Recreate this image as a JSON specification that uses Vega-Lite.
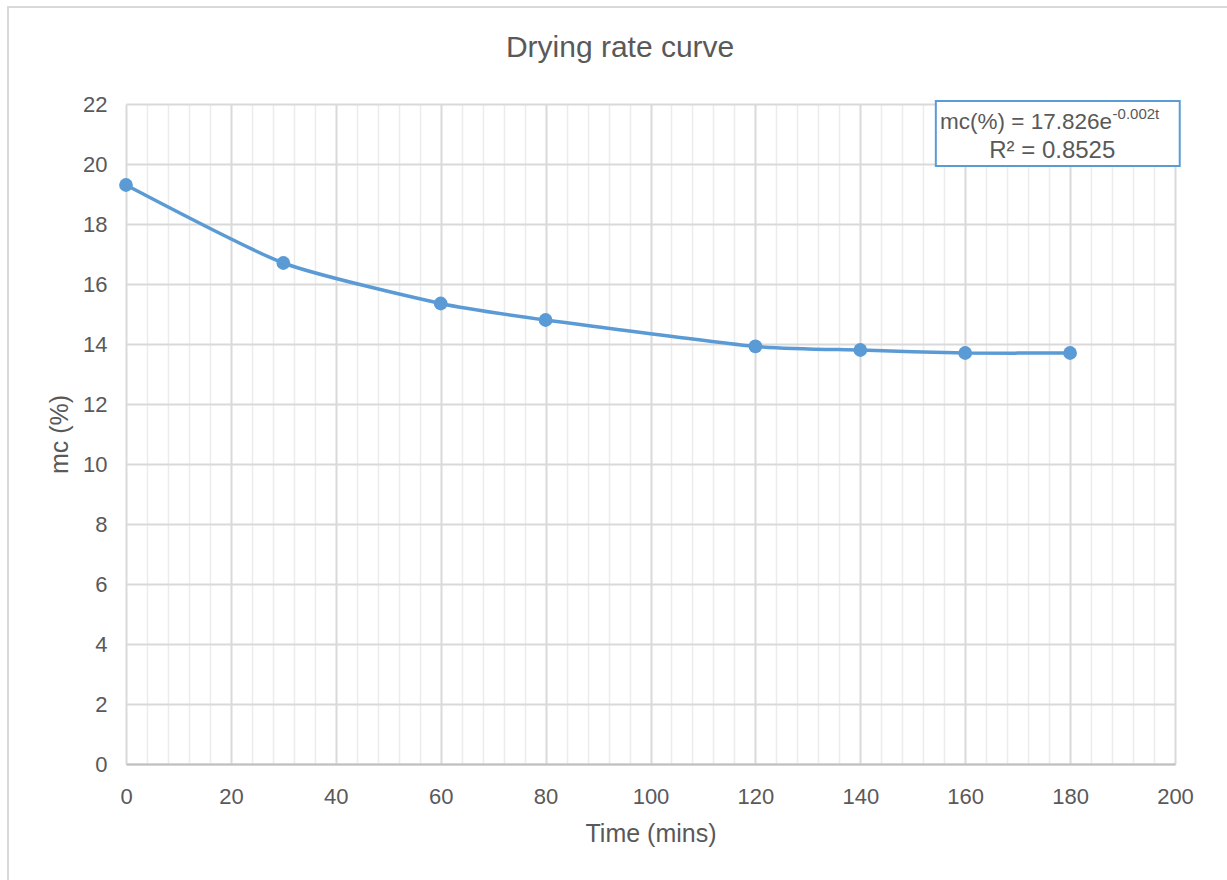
{
  "$schema": "https://vega.github.io/schema/vega-lite/v6.json",
  "autosize": "none",
  "width": 1049,
  "height": 660,
  "padding": {"left": 126, "top": 104, "right": 52, "bottom": 116},
  "background": "white",
  "config": {
    "font": "Liberation Sans",
    "view": {"stroke": null}
  },
  "datasets": {
    "series": [
      {"time": 0, "mc": 19.3},
      {"time": 30, "mc": 16.7},
      {"time": 60, "mc": 15.35},
      {"time": 80, "mc": 14.8},
      {"time": 120, "mc": 13.92},
      {"time": 140, "mc": 13.8},
      {"time": 160, "mc": 13.7},
      {"time": 180, "mc": 13.7}
    ],
    "frame": [{"x1": -22.5, "x2": 240, "y1": 25.23, "y2": -10}],
    "heading": [{"tx": 94.2, "ty": 23.87, "txt": "Drying rate curve"}],
    "box": [{"x1": 154.4, "x2": 200.9, "y1": 22.1, "y2": 19.93}],
    "main": [{"tx": 188.0, "ty": 21.40, "txt": "mc(%) = 17.826e"}],
    "r2": [{"tx": 176.6, "ty": 20.45, "txt": "R² = 0.8525"}],
    "sup": [{"tx": 188.1, "ty": 21.66, "txt": "-0.002t"}]
  },
  "layer": [
    {
      "data": {"name": "frame"},
      "mark": {"type": "rect", "fill": null, "fillOpacity": 0, "stroke": "#d9d9d9", "strokeWidth": 2, "clip": false},
      "encoding": {
        "x": {"field": "x1", "type": "quantitative"},
        "x2": {"field": "x2"},
        "y": {"field": "y1", "type": "quantitative"},
        "y2": {"field": "y2"}
      }
    },
    {
      "data": {"name": "series"},
      "mark": {"type": "line", "interpolate": "cardinal", "tension": 0.4, "color": "#5b9bd5", "strokeWidth": 3.5, "point": {"filled": true, "size": 190, "color": "#5b9bd5", "opacity": 1}},
      "encoding": {
        "x": {
          "field": "time", "type": "quantitative",
          "scale": {"domain": [0, 200], "nice": false},
          "axis": {
            "title": "Time (mins)",
            "titleFontSize": 25, "titleFontWeight": "normal", "titleColor": "#595959", "titlePadding": 14,
            "values": [0,4,8,12,16,20,24,28,32,36,40,44,48,52,56,60,64,68,72,76,80,84,88,92,96,100,104,108,112,116,120,124,128,132,136,140,144,148,152,156,160,164,168,172,176,180,184,188,192,196,200],
            "tickCount": 200,
            "labelExpr": "abs(datum.value / 20 - round(datum.value / 20)) < 0.01 ? format(datum.value, 'd') : ''",
            "labelOverlap": false,
            "labelFontSize": 22, "labelColor": "#595959", "labelPadding": 22,
            "ticks": false,
            "domainColor": "#bfbfbf", "domainWidth": 2,
            "grid": true,
            "gridColor": {"condition": {"test": "abs(datum.value / 20 - round(datum.value / 20)) < 0.01", "value": "#d9d9d9"}, "value": "#ececec"},
            "gridWidth": {"condition": {"test": "abs(datum.value / 20 - round(datum.value / 20)) < 0.01", "value": 2}, "value": 1.5},
            "labelFlush": false
          }
        },
        "y": {
          "field": "mc", "type": "quantitative",
          "scale": {"domain": [0, 22], "nice": false},
          "axis": {
            "title": "mc (%)",
            "titleFontSize": 25, "titleFontWeight": "normal", "titleColor": "#595959", "titlePadding": 10,
            "values": [0,2,4,6,8,10,12,14,16,18,20,22],
            "tickCount": 50,
            "format": "d",
            "labelFontSize": 22, "labelColor": "#595959", "labelPadding": 19,
            "labelOverlap": false,
            "ticks": false, "domain": false,
            "gridColor": "#d9d9d9", "gridWidth": 2
          }
        }
      }
    },
    {
      "data": {"name": "heading"},
      "mark": {"type": "text", "fontSize": 30, "color": "#595959", "baseline": "middle", "align": "center", "clip": false},
      "encoding": {
        "x": {"field": "tx", "type": "quantitative"},
        "y": {"field": "ty", "type": "quantitative"},
        "text": {"field": "txt"}
      }
    },
    {
      "data": {"name": "box"},
      "mark": {"type": "rect", "fill": "white", "stroke": "#5b9bd5", "strokeWidth": 2, "clip": false},
      "encoding": {
        "x": {"field": "x1", "type": "quantitative"},
        "x2": {"field": "x2"},
        "y": {"field": "y1", "type": "quantitative"},
        "y2": {"field": "y2"}
      }
    },
    {
      "data": {"name": "main"},
      "mark": {"type": "text", "fontSize": 22.5, "color": "#595959", "baseline": "middle", "align": "right", "clip": false},
      "encoding": {
        "x": {"field": "tx", "type": "quantitative"},
        "y": {"field": "ty", "type": "quantitative"},
        "text": {"field": "txt"}
      }
    },
    {
      "data": {"name": "r2"},
      "mark": {"type": "text", "fontSize": 24, "color": "#595959", "baseline": "middle", "align": "center", "clip": false},
      "encoding": {
        "x": {"field": "tx", "type": "quantitative"},
        "y": {"field": "ty", "type": "quantitative"},
        "text": {"field": "txt"}
      }
    },
    {
      "data": {"name": "sup"},
      "mark": {"type": "text", "fontSize": 15, "color": "#595959", "baseline": "middle", "align": "left", "clip": false},
      "encoding": {
        "x": {"field": "tx", "type": "quantitative"},
        "y": {"field": "ty", "type": "quantitative"},
        "text": {"field": "txt"}
      }
    }
  ]
}
